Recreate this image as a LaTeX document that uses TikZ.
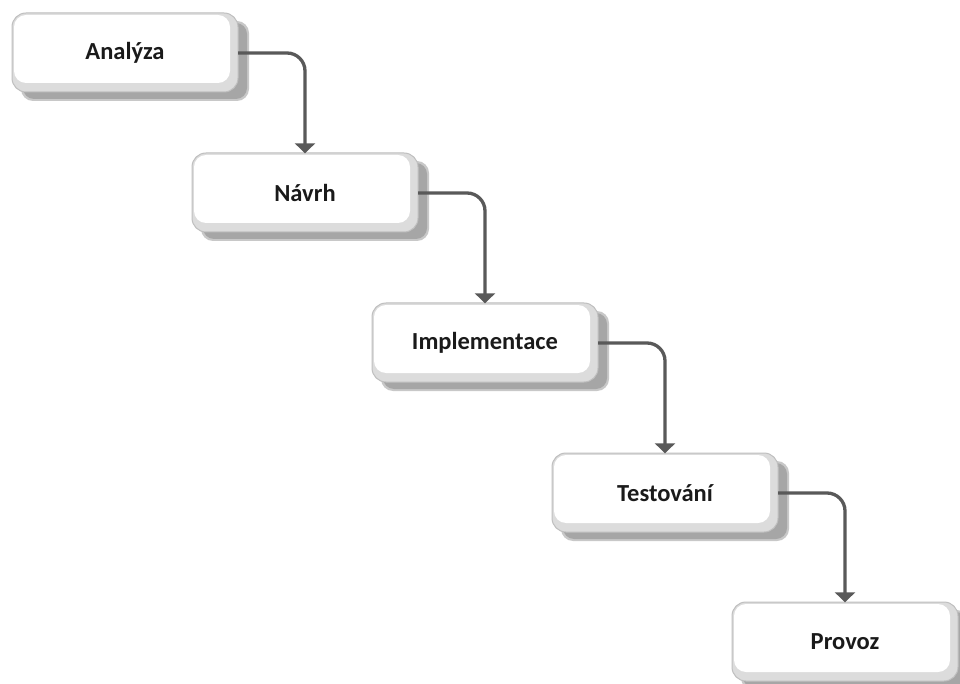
\documentclass[tikz,border=0pt]{standalone}
\usepackage{fontspec}
\setmainfont{Carlito}
\usetikzlibrary{arrows.meta}
\definecolor{rimgray}{HTML}{BFBFBF}
\definecolor{bevelgray}{HTML}{DCDCDC}
\definecolor{shadowgray}{HTML}{A6A6A6}
\definecolor{shadowrim}{HTML}{C8C8C8}
\definecolor{flowgray}{HTML}{595959}
\definecolor{labelgray}{HTML}{1A1A1A}
\tikzset{
  stagelabel/.style={font=\bfseries\fontsize{24.5}{27}\selectfont, text=labelgray,
    minimum width=226pt, minimum height=79pt, inner sep=0pt},
  flowarrow/.style={draw=flowgray, line width=3.3pt, rounded corners=18pt,
    -{Triangle[width=20pt,length=10pt]}},
}
% one raised stage box with its bevel and drop shadow
\newcommand\stagebox[4]{%
  \fill[shadowrim, rounded corners=12pt] (#2+9,#3+8) rectangle (#2+237,#3+88);
  \fill[shadowgray, rounded corners=11pt] (#2+11,#3+10) rectangle (#2+235,#3+86);
  \fill[bevelgray, draw=rimgray, line width=1pt, rounded corners=14pt]
    (#2,#3) rectangle (#2+226,#3+79);
  \fill[white, rounded corners=12pt] (#2+2,#3+2) rectangle (#2+218,#3+70);
  \node[stagelabel] (#1) at (#2+113,#3+40) {#4};
}
\begin{document}
\begin{tikzpicture}[x=1pt,y=-1pt]
\useasboundingbox[fill=white] (0,0) rectangle (960,684);
\stagebox{analyza}{12}{13}{Analýza}
\stagebox{navrh}{192}{153}{Návrh}
\stagebox{impl}{372}{303}{Implementace}
\stagebox{test}{552}{453}{Testování}
\stagebox{provoz}{732}{602}{Provoz}
\draw[flowarrow] (analyza.east) -| (navrh.north);
\draw[flowarrow] (navrh.east) -| (impl.north);
\draw[flowarrow] (impl.east) -| (test.north);
\draw[flowarrow] (test.east) -| (provoz.north);
\end{tikzpicture}
\end{document}
